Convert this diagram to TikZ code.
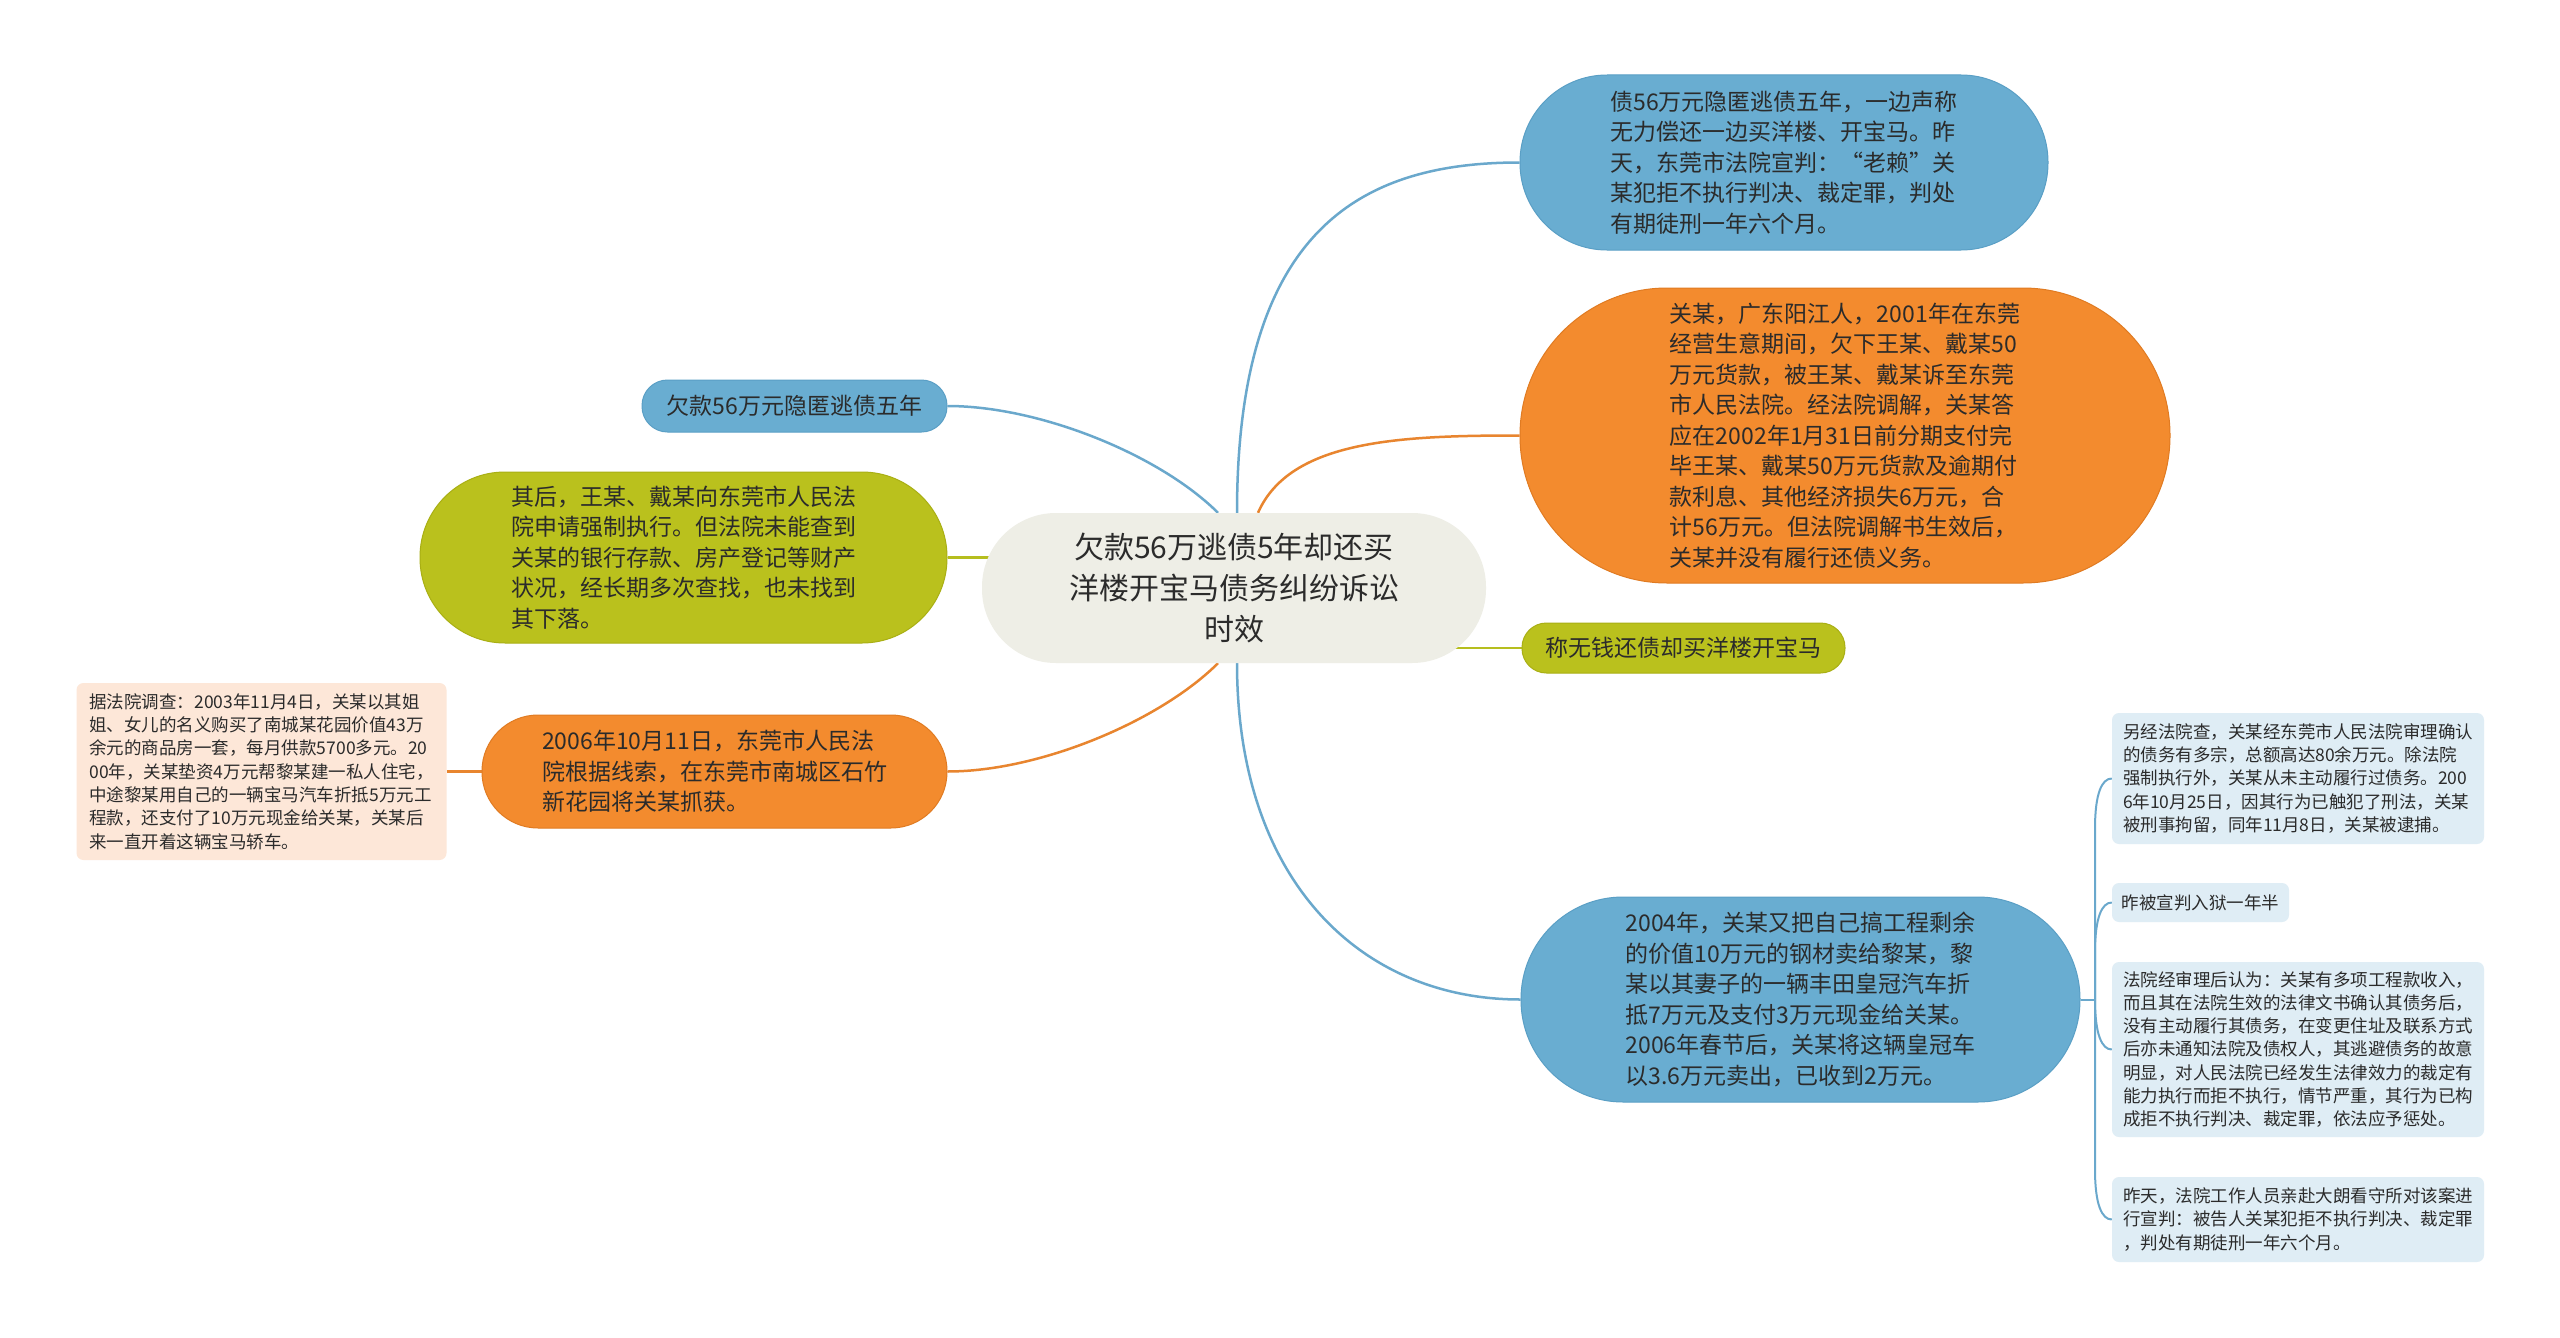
\documentclass[tikz,border=0pt]{standalone}
\usepackage{fontspec}
\setmainfont{Noto Sans CJK SC}
\usetikzlibrary{calc,backgrounds}
\definecolor{cblue}{HTML}{69ADD1}
\definecolor{cbluedk}{HTML}{5A9FC5}
\definecolor{corange}{HTML}{F38B2E}
\definecolor{corangedk}{HTML}{E07B22}
\definecolor{cgreen}{HTML}{BAC11D}
\definecolor{cgreendk}{HTML}{A9AF14}
\definecolor{ccenter}{HTML}{EEEEE6}
\definecolor{cpeach}{HTML}{FDE7D8}
\definecolor{cnote}{HTML}{DFEDF5}
\definecolor{txt}{HTML}{2B2B2B}
\definecolor{lblue}{HTML}{6AA8CC}
\definecolor{lorange}{HTML}{E8852F}
\definecolor{lgreen}{HTML}{B6BE1E}
\begin{document}
\begin{tikzpicture}[x=1pt,y=-1pt,
  box/.style={inner sep=0pt, align=left, text=txt, font=\fontsize{23}{30.5}\selectfont},
  bluebox/.style={box, fill=cblue, draw=cbluedk, line width=1pt},
  orangebox/.style={box, fill=corange, draw=corangedk, line width=1pt},
  greenbox/.style={box, fill=cgreen, draw=cgreendk, line width=1pt},
  notebox/.style={inner sep=0pt, align=left, text=txt, rounded corners=7pt, font=\fontsize{17.5}{23.3}\selectfont},
  lb/.style={draw=lblue, line width=2.5pt},
  lo/.style={draw=lorange, line width=2.5pt},
  lg/.style={draw=lgreen, line width=2.5pt},
  lb2/.style={draw=lblue, line width=2pt}
]
\useasboundingbox (0,0) rectangle (2560,1338);

% central topic
\node[fill=ccenter, inner sep=0pt, rounded corners=74pt, minimum width=504pt, minimum height=150pt,
      align=center, text=txt, font=\fontsize{30}{41}\selectfont] (c) at (1234,588)
  {欠款56万逃债5年却还买\\洋楼开宝马债务纠纷诉讼\\时效};

% right side
\node[bluebox, rounded corners=87pt, minimum width=528pt, minimum height=175pt] (tb) at (1784,162.5)
  {债56万元隐匿逃债五年，一边声称\\无力偿还一边买洋楼、开宝马。昨\\天，东莞市法院宣判：“老赖”关\\某犯拒不执行判决、裁定罪，判处\\有期徒刑一年六个月。};

\node[orangebox, rounded corners=147pt, minimum width=650pt, minimum height=295pt] (ro) at (1845,435.5)
  {关某，广东阳江人，2001年在东莞\\经营生意期间，欠下王某、戴某50\\万元货款，被王某、戴某诉至东莞\\市人民法院。经法院调解，关某答\\应在2002年1月31日前分期支付完\\毕王某、戴某50万元货款及逾期付\\款利息、其他经济损失6万元，合\\计56万元。但法院调解书生效后，\\关某并没有履行还债义务。};

\node[greenbox, rounded corners=24.5pt, minimum width=323pt, minimum height=50pt] (rg) at (1683.5,648)
  {称无钱还债却买洋楼开宝马};

\node[bluebox, rounded corners=102pt, minimum width=559pt, minimum height=205pt] (bb) at (1800.5,999.5)
  {2004年，关某又把自己搞工程剩余\\的价值10万元的钢材卖给黎某，黎\\某以其妻子的一辆丰田皇冠汽车折\\抵7万元及支付3万元现金给关某。\\2006年春节后，关某将这辆皇冠车\\以3.6万元卖出，已收到2万元。};

% right notes
\node[notebox, fill=cnote, minimum width=372pt, minimum height=131pt] (n1) at (2298,778.5)
  {另经法院查，关某经东莞市人民法院审理确认\\的债务有多宗，总额高达80余万元。除法院\\强制执行外，关某从未主动履行过债务。200\\6年10月25日，因其行为已触犯了刑法，关某\\被刑事拘留，同年11月8日，关某被逮捕。};
\node[notebox, fill=cnote, minimum width=177pt, minimum height=39pt] (n2) at (2200.5,902.5)
  {昨被宣判入狱一年半};
\node[notebox, fill=cnote, minimum width=372pt, minimum height=175pt] (n3) at (2298,1049.5)
  {法院经审理后认为：关某有多项工程款收入，\\而且其在法院生效的法律文书确认其债务后，\\没有主动履行其债务，在变更住址及联系方式\\后亦未通知法院及债权人，其逃避债务的故意\\明显，对人民法院已经发生法律效力的裁定有\\能力执行而拒不执行，情节严重，其行为已构\\成拒不执行判决、裁定罪，依法应予惩处。};
\node[notebox, fill=cnote, minimum width=372pt, minimum height=85pt] (n4) at (2298,1219.5)
  {昨天，法院工作人员亲赴大朗看守所对该案进\\行宣判：被告人关某犯拒不执行判决、裁定罪\\，判处有期徒刑一年六个月。};

% left side
\node[bluebox, rounded corners=25.5pt, minimum width=305pt, minimum height=52pt] (lb) at (794.5,406)
  {欠款56万元隐匿逃债五年};

\node[greenbox, rounded corners=85pt, minimum width=527pt, minimum height=171pt] (lgr) at (683.5,557.5)
  {其后，王某、戴某向东莞市人民法\\院申请强制执行。但法院未能查到\\关某的银行存款、房产登记等财产\\状况，经长期多次查找，也未找到\\其下落。};

\node[orangebox, rounded corners=56pt, minimum width=465pt, minimum height=113pt] (lor) at (714.5,771.5)
  {2006年10月11日，东莞市人民法\\院根据线索，在东莞市南城区石竹\\新花园将关某抓获。};

\node[notebox, fill=cpeach, minimum width=370pt, minimum height=177pt] (pn) at (261.5,771.5)
  {据法院调查：2003年11月4日，关某以其姐\\姐、女儿的名义购买了南城某花园价值43万\\余元的商品房一套，每月供款5700多元。20\\00年，关某垫资4万元帮黎某建一私人住宅，\\中途黎某用自己的一辆宝马汽车折抵5万元工\\程款，还支付了10万元现金给关某，关某后\\来一直开着这辆宝马轿车。};

\coordinate (br) at (2095,999.5);

\begin{scope}[on background layer]
  \fill[white] (0,0) rectangle (2560,1338);
  % right connectors
  \draw[lb] ([xshift=3pt]c.north) .. controls (1237,230) and (1360,162.5) .. (tb.west);
  \draw[lo] ([xshift=24pt]c.north) .. controls (1290,440) and (1400,435.5) .. (ro.west);
  \draw[lg] (c.center |- rg.west) -- (rg.west);
  \draw[lb] ([xshift=3pt]c.south) .. controls (1237,880) and (1360,999.5) .. (bb.west);
  % left connectors
  \draw[lb] ([xshift=-16pt]c.north) .. controls (1160,455) and (1040,406) .. (lb.east);
  \draw[lg] (c.center |- lgr.east) -- (lgr.east);
  \draw[lo] ([xshift=-16pt]c.south) .. controls (1160,721) and (1040,771.5) .. (lor.east);
  \draw[lo] (pn.east) -- (lor.west);
  % bracket to notes
  \draw[lb2] (bb.east) -- (br);
  \draw[lb2] (br) -- ($(br|-n1.west)+(0,50)$) .. controls ($(br|-n1.west)+(0,15)$) and ($(n1.west)+(-10,0)$) .. (n1.west);
  \draw[lb2] (br) -- ($(br|-n2.west)+(0,50)$) .. controls ($(br|-n2.west)+(0,15)$) and ($(n2.west)+(-10,0)$) .. (n2.west);
  \draw[lb2] (br) -- ($(br|-n3.west)+(0,-50)$) .. controls ($(br|-n3.west)+(0,-15)$) and ($(n3.west)+(-10,0)$) .. (n3.west);
  \draw[lb2] (br) -- ($(br|-n4.west)+(0,-50)$) .. controls ($(br|-n4.west)+(0,-15)$) and ($(n4.west)+(-10,0)$) .. (n4.west);
\end{scope}
\end{tikzpicture}
\end{document}
